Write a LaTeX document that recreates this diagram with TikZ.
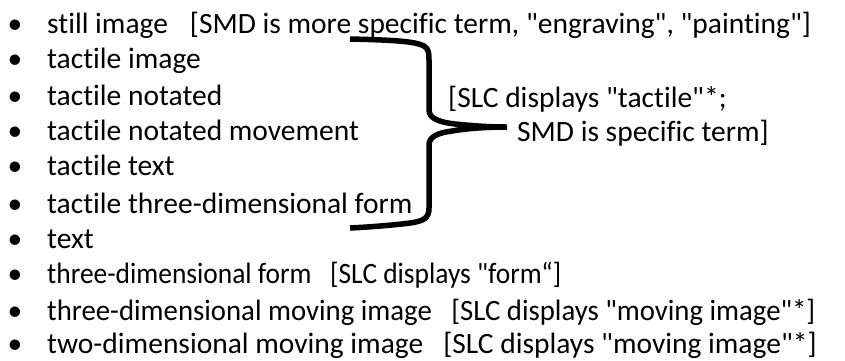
\documentclass[tikz,border=0pt]{standalone}
\usepackage{fontspec}
\usepackage{graphicx}
\setmainfont{Carlito}[Ligatures={TeXOff,CommonOff}]
\newcommand{\bul}{\llap{•\hspace{25pt}}}
\begin{document}
\begin{tikzpicture}[x=1pt,y=-1pt,
  item/.style={anchor=base west,inner sep=0pt,font=\fontsize{29.5}{34}\selectfont}]
\useasboundingbox (0,0) rectangle (845,360);
\node[item] (A) at (47,33) {\bul still image\hspace{22pt}[SMD is more specific term, "engraving", "painting"]};
\node[item] (B) at (47,68) {\bul tactile image};
\node[item] (C) at (47,105) {\bul tactile notated};
\node[item] (D) at (47,140) {\bul tactile notated movement};
\node[item] (E) at (47,175) {\bul tactile text};
\node[item] (F) at (47,213) {\bul tactile three-dimensional form};
\node[item] (G) at (47,248) {\bul text};
\node[item] (H) at (47,283) {\bul\scalebox{0.93}[1]{three-dimensional form\hspace{20pt}[SLC displays "form“]}};
\node[item] (I) at (47,320) {\bul\scalebox{0.975}[1]{three-dimensional moving image\hspace{20pt}[SLC displays "moving image"*]}};
\node[item] (J) at (47,353) {\bul two-dimensional moving image\hspace{20pt}[SLC displays "moving image"*]};
\node[item] (K) at (448,107) {[SLC displays "tactile"*;};
\node[item] (L) at (517,141) {SMD is specific term]};
\draw[line width=5.5pt] (350,39) .. controls (390,40) and (415,41) .. (424,46)
  .. controls (429,49) and (429,54) .. (429,60) -- (429,110)
  .. controls (429,118) and (438,122) .. (455,124)
  .. controls (475,126) and (490,127) .. (507,127)
  .. controls (490,127) and (470,128) .. (452,131)
  .. controls (437,133) and (429,137) .. (429,145) -- (429,208)
  .. controls (429,218) and (424,221) .. (410,223)
  .. controls (395,225) and (370,227) .. (350,228);
\end{tikzpicture}
\end{document}
